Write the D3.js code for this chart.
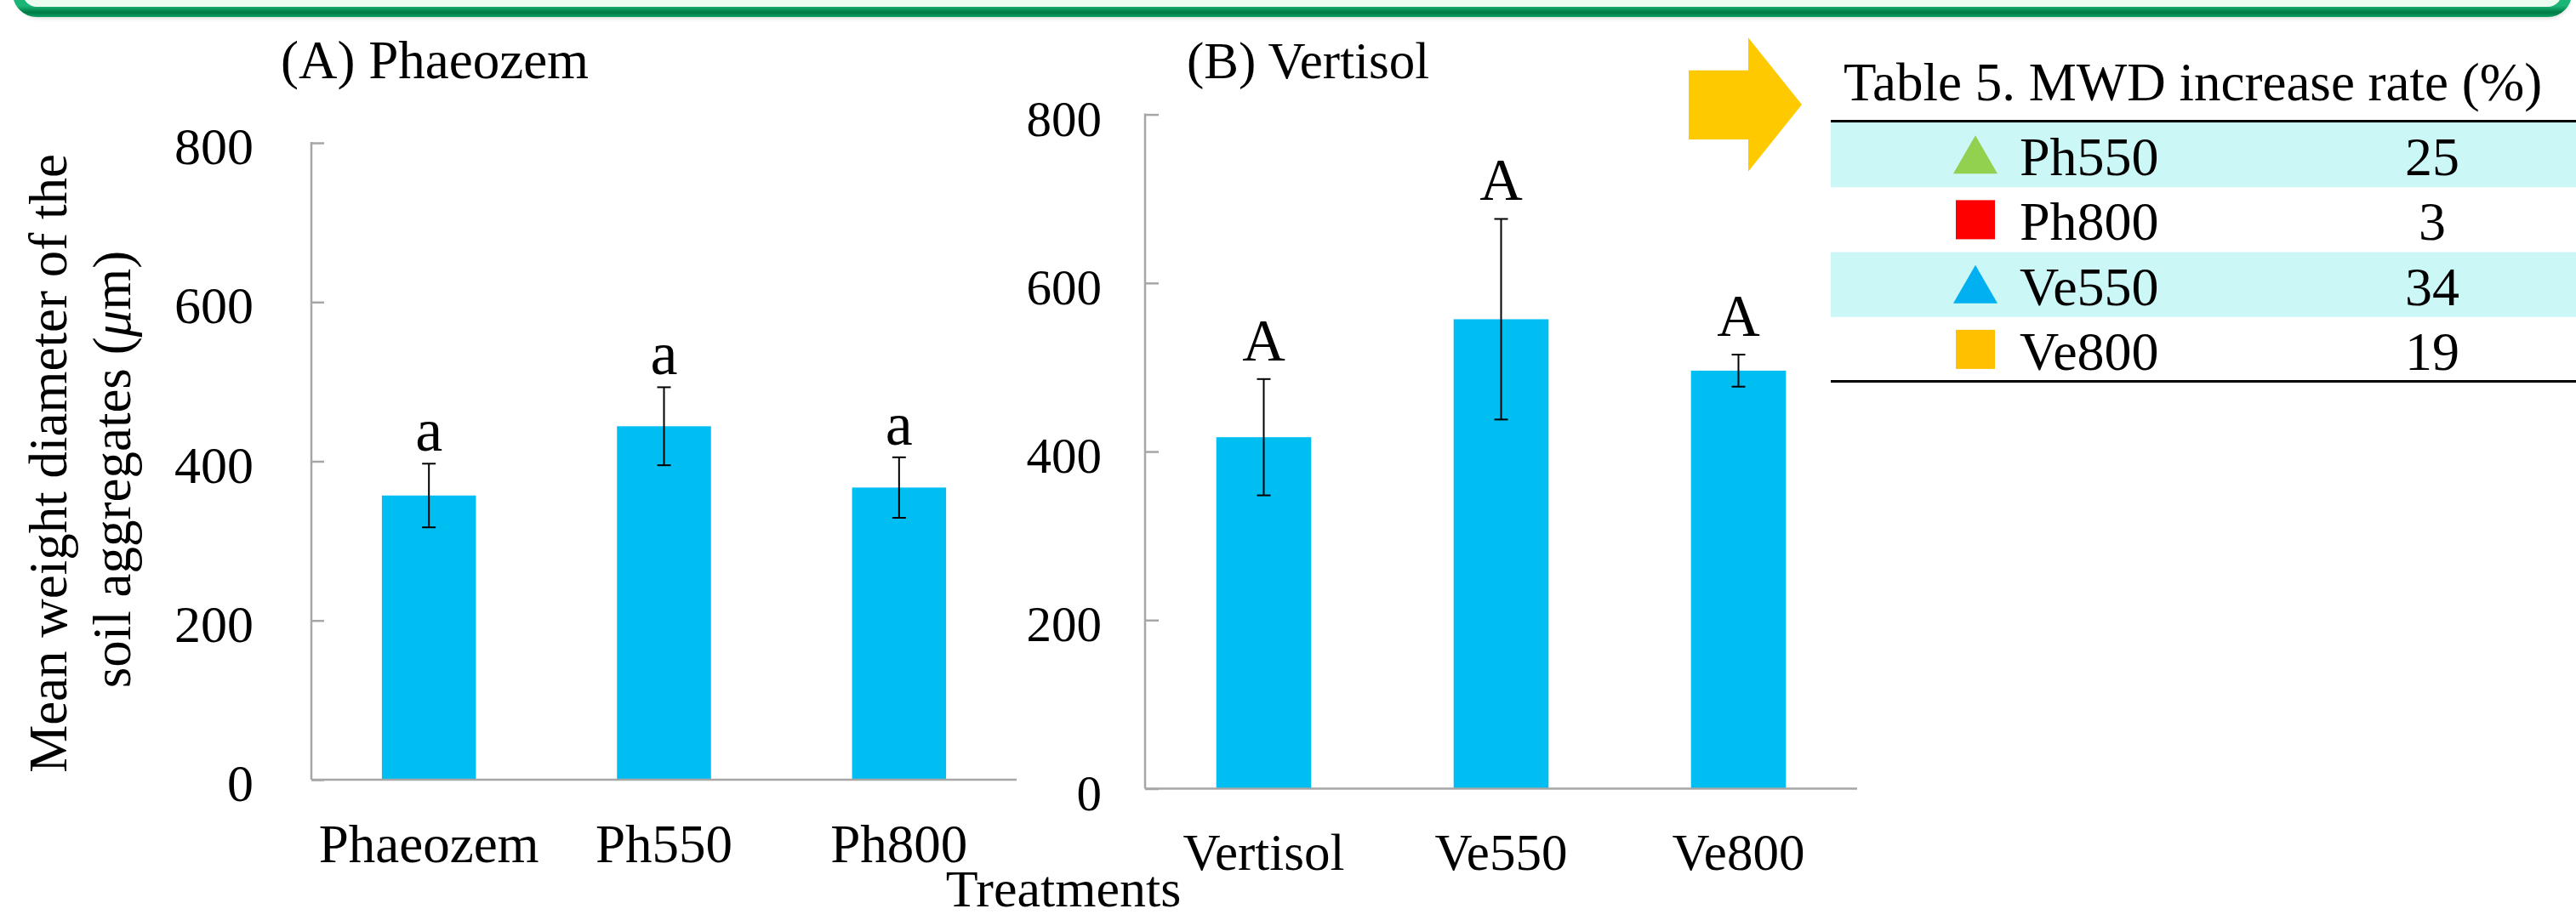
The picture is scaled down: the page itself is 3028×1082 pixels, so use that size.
<!DOCTYPE html>
<html>
<head>
<meta charset="utf-8">
<script src="https://cdn.jsdelivr.net/npm/d3@7"></script>
<style>
  html, body { margin: 0; padding: 0; background: #ffffff; }
  svg { display: block; }
  text { font-family: "Liberation Serif", "Times New Roman", serif; fill: #000; }
</style>
</head>
<body>
<svg id="chart" width="3028" height="1082"></svg>
<script>
// ---- data ----
const categoriesA = ["Phaeozem", "Ph550", "Ph800"];
const meansA = [357, 444, 367];
const errorsA = [40, 49, 38];
const lettersA = ["a", "a", "a"];

const categoriesB = ["Vertisol", "Ve550", "Ve800"];
const meansB = [417, 557, 496];
const errorsB = [69, 119, 19];
const lettersB = ["A", "A", "A"];

const yTicks = [0, 200, 400, 600, 800];

const tableTitle = "Table 5. MWD increase rate (%)";
const tableLabels = ["Ph550", "Ph800", "Ve550", "Ve800"];
const tableRates = [25, 3, 34, 19];
const tableShapes = ["triangle", "square", "triangle", "square"];
const tableColors = ["#92D050", "#FF0000", "#00B0F0", "#FFC000"];

// ---- styles ----
const barColor = "#00BEF2";
const axisColor = "#A6A6A6";

const svg = d3.select("#chart");
const defs = svg.append("defs");

// ---- banner strip along the top ----
const grad = defs.append("linearGradient")
  .attr("id", "bannerStroke")
  .attr("gradientUnits", "userSpaceOnUse")
  .attr("x1", 0).attr("y1", 7).attr("x2", 0).attr("y2", 21);
grad.append("stop").attr("offset", "0%").attr("stop-color", "#1BB575");
grad.append("stop").attr("offset", "55%").attr("stop-color", "#007A45");
grad.append("stop").attr("offset", "100%").attr("stop-color", "#0FA868");

const shadow = defs.append("filter").attr("id", "bannerShadow")
  .attr("x", "-5%").attr("y", "-50%").attr("width", "110%").attr("height", "200%");
shadow.append("feGaussianBlur").attr("stdDeviation", 3);

svg.append("rect")
  .attr("x", 22).attr("y", -60).attr("width", 2998).attr("height", 80)
  .attr("rx", 24)
  .attr("fill", "#999").attr("opacity", 0.55)
  .attr("filter", "url(#bannerShadow)");
svg.append("rect")
  .attr("x", 21).attr("y", -60).attr("width", 2996).attr("height", 74)
  .attr("rx", 22)
  .attr("fill", "#EBFCF1")
  .attr("stroke", "url(#bannerStroke)")
  .attr("stroke-width", 12);

// ---- bar panel ----
function drawPanel(cfg) {
  const g = svg.append("g");
  const x = d3.scaleBand().domain(cfg.categories)
    .range([cfg.left, cfg.right]).paddingInner(0.6).paddingOuter(0.3);
  const y = d3.scaleLinear().domain([0, 800]).range([cfg.bottom, cfg.top]);

  // y axis: line with inward ticks
  const yAxis = d3.axisRight(y).tickValues(yTicks).tickSize(cfg.tickLen).tickFormat("");
  const ya = g.append("g").attr("transform", `translate(${cfg.left},0)`).call(yAxis);
  ya.select(".domain").remove();
  ya.selectAll(".tick line").attr("stroke", axisColor).attr("stroke-width", 2.5);
  g.append("line")
    .attr("x1", cfg.left).attr("x2", cfg.left)
    .attr("y1", y(800) - 1).attr("y2", y(0))
    .attr("stroke", axisColor).attr("stroke-width", 2.5);

  // y tick labels
  g.selectAll(".ylab").data(yTicks).join("text")
    .attr("class", "ylab")
    .attr("x", cfg.left - cfg.labelGap)
    .attr("y", d => y(d) + cfg.labelShift)
    .attr("text-anchor", "end")
    .attr("font-size", cfg.tickFont)
    .text(d => d);

  // bars
  const data = cfg.categories.map((c, i) => ({
    c, v: cfg.means[i], e: cfg.errors[i], l: cfg.letters[i]
  }));
  g.selectAll(".bar").data(data).join("rect")
    .attr("class", "bar")
    .attr("x", d => x(d.c))
    .attr("width", x.bandwidth())
    .attr("y", d => y(d.v))
    .attr("height", d => y(0) - y(d.v))
    .attr("fill", barColor);

  // x axis line
  g.append("line")
    .attr("x1", cfg.left).attr("x2", cfg.right)
    .attr("y1", y(0)).attr("y2", y(0))
    .attr("stroke", axisColor).attr("stroke-width", 2.5);

  // error bars
  const cx = d => x(d.c) + x.bandwidth() / 2;
  const eg = g.selectAll(".err").data(data).join("g").attr("class", "err")
    .attr("stroke", "#000").attr("stroke-width", 2);
  eg.append("line").attr("x1", cx).attr("x2", cx)
    .attr("y1", d => y(d.v + d.e)).attr("y2", d => y(d.v - d.e));
  eg.append("line").attr("x1", d => cx(d) - 8).attr("x2", d => cx(d) + 8)
    .attr("y1", d => y(d.v + d.e)).attr("y2", d => y(d.v + d.e));
  eg.append("line").attr("x1", d => cx(d) - 8).attr("x2", d => cx(d) + 8)
    .attr("y1", d => y(d.v - d.e)).attr("y2", d => y(d.v - d.e));

  // significance letters
  g.selectAll(".letter").data(data).join("text")
    .attr("class", "letter")
    .attr("x", cx)
    .attr("y", d => y(d.v + d.e) - cfg.letterGap)
    .attr("text-anchor", "middle")
    .attr("font-size", cfg.letterFont)
    .text(d => d.l);

  // category labels
  g.selectAll(".xlab").data(data).join("text")
    .attr("class", "xlab")
    .attr("x", cx)
    .attr("y", y(0) + cfg.catGap)
    .attr("text-anchor", "middle")
    .attr("font-size", cfg.catFont)
    .text(d => d.c);

  // panel title
  g.append("text")
    .attr("x", cfg.titleX).attr("y", 92)
    .attr("font-size", cfg.titleFont)
    .text(cfg.title);
}

drawPanel({
  title: "(A) Phaeozem", titleX: 330, titleFont: 63,
  categories: categoriesA, means: meansA, errors: errorsA, letters: lettersA,
  left: 366, right: 1195, top: 168, bottom: 917,
  tickLen: 15, labelGap: 68, labelShift: 25, tickFont: 62,
  letterGap: 15, letterFont: 72, catGap: 97, catFont: 63
});

drawPanel({
  title: "(B) Vertisol", titleX: 1395, titleFont: 61,
  categories: categoriesB, means: meansB, errors: errorsB, letters: lettersB,
  left: 1346, right: 2183, top: 134.6, bottom: 927.5,
  tickLen: 16, labelGap: 51, labelShift: 25, tickFont: 59,
  letterGap: 22, letterFont: 70, catGap: 95.5, catFont: 61
});

// shared y axis title (two lines, rotated)
const yTitle = svg.append("g").attr("font-size", 63);
yTitle.append("text")
  .attr("transform", "translate(78,545) rotate(-90)")
  .attr("text-anchor", "middle")
  .text("Mean weight diameter of the");
const yt2 = yTitle.append("text")
  .attr("transform", "translate(153,552) rotate(-90)")
  .attr("text-anchor", "middle");
yt2.append("tspan").text("soil aggregates (");
yt2.append("tspan").attr("font-style", "italic").text("μ");
yt2.append("tspan").text("m)");

// shared x axis title
svg.append("text")
  .attr("x", 1250).attr("y", 1066)
  .attr("text-anchor", "middle")
  .attr("font-size", 62)
  .text("Treatments");

// ---- arrow pointing to the table ----
const arrowPts = [[1985, 82.7], [2055, 82.7], [2055, 44.3], [2118, 123],
                  [2055, 201.7], [2055, 164], [1985, 164]];
svg.append("path")
  .attr("d", d3.line()(arrowPts) + "Z")
  .attr("fill", "#FFC900");

// ---- summary table ----
const tbl = svg.append("g");
const rowTop = 144, rowH = 76.25, tblLeft = 2152, tblRight = 3028;
const rowY = d3.scaleBand().domain(tableLabels)
  .range([rowTop, rowTop + rowH * tableLabels.length]);

tbl.selectAll(".band").data(tableLabels.filter((d, i) => i % 2 === 0)).join("rect")
  .attr("class", "band")
  .attr("x", tblLeft).attr("width", tblRight - tblLeft)
  .attr("y", d => rowY(d)).attr("height", rowY.bandwidth())
  .attr("fill", "#CCF7F7");

tbl.append("text")
  .attr("x", 2167).attr("y", 118)
  .attr("font-size", 63)
  .text(tableTitle);

tbl.append("line")
  .attr("x1", tblLeft).attr("x2", tblRight)
  .attr("y1", 142.5).attr("y2", 142.5)
  .attr("stroke", "#000").attr("stroke-width", 3);
tbl.append("line")
  .attr("x1", tblLeft).attr("x2", tblRight)
  .attr("y1", 448.5).attr("y2", 448.5)
  .attr("stroke", "#000").attr("stroke-width", 3);

const markerX = 2322;
tableLabels.forEach((lab, i) => {
  const cy = rowY(lab) + rowY.bandwidth() / 2;
  if (tableShapes[i] === "triangle") {
    tbl.append("path")
      .attr("d", d3.line()([[markerX - 26, cy + 22], [markerX, cy - 23], [markerX + 26, cy + 22]]) + "Z")
      .attr("fill", tableColors[i]);
  } else {
    tbl.append("rect")
      .attr("x", markerX - 23).attr("y", cy - 23)
      .attr("width", 46).attr("height", 46)
      .attr("fill", tableColors[i]);
  }
  tbl.append("text")
    .attr("x", 2374).attr("y", cy + 24)
    .attr("font-size", 64)
    .text(lab);
  tbl.append("text")
    .attr("x", 2859).attr("y", cy + 24)
    .attr("text-anchor", "middle")
    .attr("font-size", 64)
    .text(tableRates[i]);
});
</script>
</body>
</html>
